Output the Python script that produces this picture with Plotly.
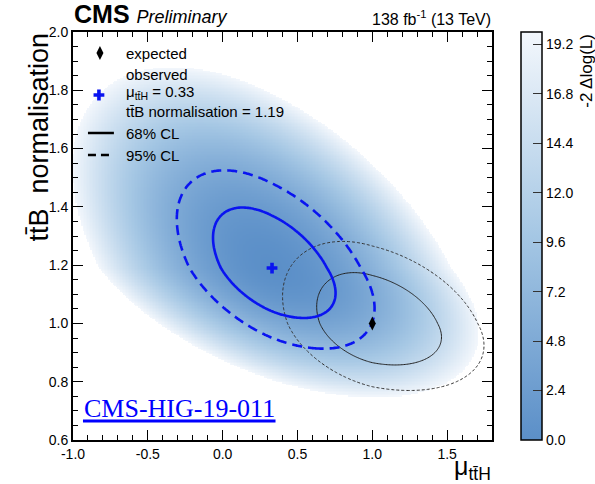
import numpy as np
import plotly.graph_objects as go

# ---- values ----
obs_best = [0.33, 1.19]            # observed best fit (mu_ttH, ttB norm)
obs_sigma_x = [0.26, 0.28]          # left / right spread near the minimum
obs_sigma_y = [0.113, 0.137]        # below / above spread near the minimum
obs_rho = -0.50
obs_far_sigma_x = [0.30, 0.31]      # spread read from the outer edge of the shaded scan
obs_far_sigma_y = [0.100, 0.155]
exp_best = [1.0, 1.0]               # expected (SM) point
exp_sigma_x = [0.245, 0.305]
exp_sigma_y = [0.094, 0.115]
exp_rho = -0.33
cl_levels = [2.30, 5.99]            # 68% / 95% CL for 2 dof
z_max = 19.8
cbar_ticks = [0.0, 2.4, 4.8, 7.2, 9.6, 12.0, 14.4, 16.8, 19.2]
x_ticks = [-1.0, -0.5, 0.0, 0.5, 1.0, 1.5]
y_ticks = [0.6, 0.8, 1.0, 1.2, 1.4, 1.6, 1.8, 2.0]
x_range = [-1.0, 1.8]
y_range = [0.6, 2.0]

FONT = "Liberation Sans, Arial, Helvetica, sans-serif"
BLUE = "#0a14f0"


def nll_surface(best, sx, sy, rho, X, Y):
    u = X - best[0]
    v = Y - best[1]
    a = np.where(u < 0, u / sx[0], u / sx[1])
    b = np.where(v < 0, v / sy[0], v / sy[1])
    return (a * a - 2 * rho * a * b + b * b) / (1 - rho * rho)


xg = np.linspace(x_range[0], x_range[1], 281)
yg = np.linspace(y_range[0], y_range[1], 281)
X, Y = np.meshgrid(xg, yg)
q_obs = nll_surface(obs_best, obs_sigma_x, obs_sigma_y, obs_rho, X, Y)
q_exp = nll_surface(exp_best, exp_sigma_x, exp_sigma_y, exp_rho, X, Y)
fill = nll_surface(obs_best, obs_far_sigma_x, obs_far_sigma_y, obs_rho, X, Y)
fill = np.where(fill <= z_max, fill, np.nan)

fig = go.Figure()

fig.add_trace(go.Heatmap(
    x=xg, y=yg, z=fill, zmin=0, zmax=z_max,
    colorscale=[[0.0, "#5b8fc8"], [0.5, "#a5c7e4"], [1.0, "#f3f7fc"]],
    hoverinfo="skip",
    colorbar=dict(
        x=(521 - 73) / 420, xanchor="left", xpad=0,
        y=0.5, yanchor="middle", len=1.0, lenmode="fraction", ypad=0,
        thickness=21, thicknessmode="pixels",
        outlinewidth=1.5, outlinecolor="black",
        tickmode="array", tickvals=cbar_ticks,
        ticktext=[f"{t:.1f}" for t in cbar_ticks],
        ticks="inside", ticklen=9, tickcolor="#333", tickwidth=1,
        tickfont=dict(family=FONT, size=14, color="black"),
    ),
))

styles = [
    (q_exp, cl_levels[0], dict(color="#222", width=1, dash="solid")),
    (q_exp, cl_levels[1], dict(color="#333", width=1, dash="3px,2px")),
    (q_obs, cl_levels[0], dict(color=BLUE, width=2.6, dash="solid")),
    (q_obs, cl_levels[1], dict(color=BLUE, width=2.6, dash="10px,6px")),
]
for z, lvl, ln in styles:
    fig.add_trace(go.Contour(
        x=xg, y=yg, z=z, showscale=False, hoverinfo="skip",
        contours=dict(start=lvl, end=lvl, size=1, coloring="none"),
        line=dict(color=ln["color"], width=ln["width"], dash=ln["dash"], smoothing=1.0),
    ))

fig.add_trace(go.Scatter(x=[obs_best[0]], y=[obs_best[1]], mode="markers",
                         marker=dict(symbol="cross", size=9, color=BLUE), hoverinfo="skip"))
fig.add_trace(go.Scatter(x=[exp_best[0]], y=[exp_best[1]], mode="markers",
                         marker=dict(symbol="diamond-tall", size=10, color="black"), hoverinfo="skip"))


def fx(px):
    return (px - 73) / 420


def fy(py):
    return (440 - py) / 408


# legend symbols on an overlay axis in plot fractions
fig.add_trace(go.Scatter(x=[fx(100)], y=[fy(53)], xaxis="x2", yaxis="y2", mode="markers",
                         marker=dict(symbol="diamond-tall", size=10, color="black"), hoverinfo="skip"))
fig.add_trace(go.Scatter(x=[fx(99)], y=[fy(95)], xaxis="x2", yaxis="y2", mode="markers",
                         marker=dict(symbol="cross", size=9, color=BLUE), hoverinfo="skip"))

shapes = [
    dict(type="line", xref="paper", yref="paper", x0=fx(88), x1=fx(114), y0=fy(133), y1=fy(133),
         line=dict(color="black", width=2.5)),
    dict(type="line", xref="paper", yref="paper", x0=fx(88), x1=fx(114), y0=fy(155), y1=fy(155),
         line=dict(color="black", width=2.5, dash="8px,5px")),
    dict(type="line", xref="paper", yref="paper", x0=fx(83), x1=fx(276), y0=fy(421), y1=fy(421),
         line=dict(color="#0000ff", width=3)),
]

ann = []


def add_text(text, px, py, size=14, xanchor="left", yanchor="middle", **kw):
    ann.append(dict(text=text, x=fx(px), y=fy(py), xref="paper", yref="paper",
                    xanchor=xanchor, yanchor=yanchor, showarrow=False,
                    font=dict(family=kw.pop("family", FONT), size=size, color=kw.pop("color", "black")),
                    **kw))


tt = "t" + "t\u0304"
add_text("expected", 124, 53, size=15)
add_text("observed", 124, 75, size=15)
add_text(f"μ<sub>{tt}H</sub> = 0.33", 124, 92, size=15)
add_text(f"{tt}B normalisation = 1.19", 124, 112, size=15)
add_text("68% CL", 124, 133, size=15)
add_text("95% CL", 124, 155, size=15)
add_text("CMS-HIG-19-011", 82, 408, size=26, family="Liberation Serif, Times New Roman, serif",
         color="#0000ff")
add_text("<b>CMS</b> <span style='font-size:18px'><i>Preliminary</i></span>", 72, 30, size=25,
         yanchor="bottom")
add_text("138 fb<sup>-1</sup> (13 TeV)", 494, 30, size=16, xanchor="right", yanchor="bottom")
add_text(f"μ<sub>{tt}H</sub>", 494, 468, size=25, xanchor="right")
add_text(f"{tt}B  normalisation", 38, 31, size=27, xanchor="center", yanchor="top", textangle=-90)
add_text("-2 Δlog(L)", 587, 32, size=17, xanchor="center", yanchor="top", textangle=-90)

axis_common = dict(showgrid=False, zeroline=False, showline=True, linecolor="black", linewidth=2,
                   mirror="allticks", ticks="inside", ticklen=10, tickwidth=1, tickcolor="black",
                   tickfont=dict(family=FONT, size=14, color="black"))

fig.update_layout(
    width=595, height=484,
    margin=dict(l=73, r=102, t=32, b=44, pad=0),
    paper_bgcolor="white", plot_bgcolor="white",
    showlegend=False,
    shapes=shapes, annotations=ann,
    xaxis=dict(range=x_range, tickmode="array", tickvals=x_ticks,
               ticktext=[f"{t:.1f}" for t in x_ticks],
               minor=dict(dtick=0.1, ticks="inside", ticklen=5, tickcolor="black"),
               **axis_common),
    yaxis=dict(range=y_range, tickmode="array", tickvals=y_ticks,
               ticktext=[f"{t:.1f}" for t in y_ticks],
               minor=dict(dtick=0.05, ticks="inside", ticklen=5, tickcolor="black"),
               **axis_common),
    xaxis2=dict(overlaying="x", range=[0, 1], visible=False, fixedrange=True),
    yaxis2=dict(overlaying="y", range=[0, 1], visible=False, fixedrange=True),
)

fig.write_html("out.html")
